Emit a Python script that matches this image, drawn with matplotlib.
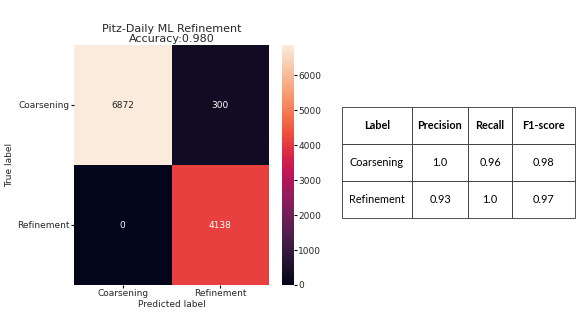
import matplotlib

matplotlib.use("Agg")
import matplotlib.pyplot as plt
import numpy as np
import seaborn as sns

# confusion matrix values
class_names = ["Coarsening", "Refinement"]
cm = np.array([[6872, 300],
               [0, 4138]])
accuracy = 0.980

# classification report table
col_labels = ["Label", "Precision", "Recall", "F1-score"]
row_labels = ["Coarsening", "Refinement"]
precision = ["1.0", "0.93"]
recall = ["0.96", "1.0"]
f1 = ["0.98", "0.97"]

fig = plt.figure(figsize=(5.81, 3.27), dpi=100)
ax = fig.add_axes([74 / 581, 1 - 285 / 327, 195 / 581, 240 / 327])
cax = fig.add_axes([282 / 581, 1 - 285 / 327, 12 / 581, 240 / 327])

sns.heatmap(cm, annot=True, fmt="d", cmap="rocket", ax=ax, cbar_ax=cax,
            xticklabels=class_names, yticklabels=class_names,
            annot_kws={"fontsize": 6.5})
ax.set_title(f"Pitz-Daily ML Refinement\nAccuracy:{accuracy:.3f}", fontsize=8,
             linespacing=1.0, pad=2, color="#262626")
ax.set_xlabel("Predicted label", fontsize=6.5, labelpad=1, color="#262626")
ax.set_ylabel("True label", fontsize=6.5, labelpad=2, color="#262626")
ax.tick_params(labelsize=6.5, length=2, pad=1, labelcolor="#262626")
ax.set_yticklabels(class_names, rotation=0)
cax.tick_params(labelsize=6.5, length=2, pad=1, labelcolor="#262626")

# metrics table
tax = fig.add_axes([342 / 581, 1 - 218 / 327, 233 / 581, 111 / 327])
tax.axis("off")
cells = [[row_labels[i], precision[i], recall[i], f1[i]] for i in range(len(row_labels))]
widths = np.array([70, 56, 44, 63], dtype=float)
tbl = tax.table(cellText=cells, colLabels=col_labels, cellLoc="center",
                colWidths=list(widths / widths.sum()), bbox=[0, 0, 1, 1])
tbl.auto_set_font_size(False)
for (r, c), cell in tbl.get_celld().items():
    cell.set_linewidth(0.6)
    cell.set_edgecolor("#333333")
    txt = cell.get_text()
    txt.set_fontsize(7.8)
    txt.set_fontfamily("Lato")
    if r == 0:
        txt.set_fontweight("bold")

fig.savefig("out.png", dpi=100)
